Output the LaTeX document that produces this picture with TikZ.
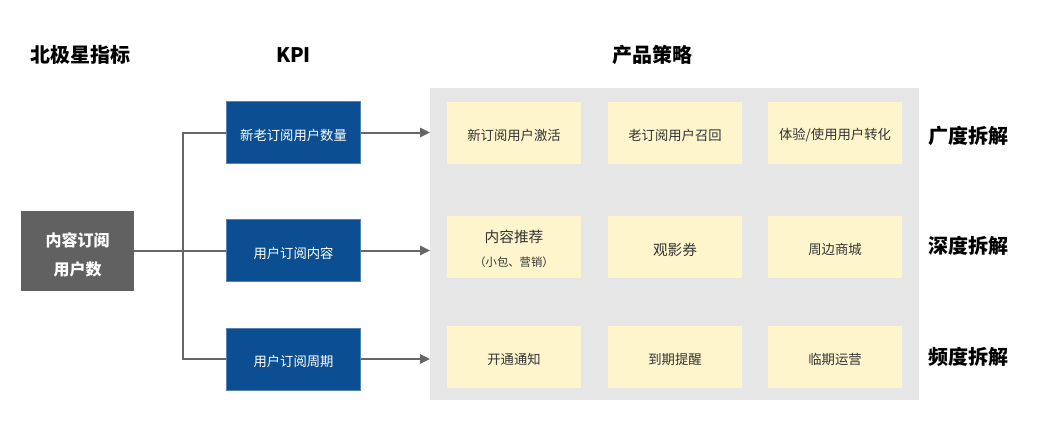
\documentclass[tikz,border=0pt]{standalone}
\usepackage{fontspec}
\setmainfont{Noto Sans CJK SC}
\usetikzlibrary{arrows.meta}
\definecolor{kpiblue}{HTML}{0B4E91}
\definecolor{nsgray}{HTML}{616161}
\definecolor{panelgray}{HTML}{E6E6E6}
\definecolor{stratyellow}{HTML}{FFF5CC}
\definecolor{linegray}{HTML}{666666}
\definecolor{txtdark}{HTML}{333333}
\newcommand\lowerby[2]{\raisebox{-#1}[\height][\depth]{#2}}
\newcommand\dn[1]{\lowerby{2pt}{#1}}
\tikzset{
  heading/.style={font=\fontsize{15}{18}\selectfont\bfseries, text=black, inner sep=0pt},
  nsbox/.style={fill=nsgray, text=white, minimum width=113*0.75pt, minimum height=80*0.75pt, inner sep=0pt, font=\fontsize{12}{21.75}\selectfont\bfseries},
  kpibox/.style={fill=kpiblue, draw=kpiblue!70!white, line width=0.4pt, text=white, minimum width=134*0.75pt, minimum height=62*0.75pt, inner sep=0pt, font=\fontsize{10}{12}\selectfont},
  stratbox/.style={fill=stratyellow, text=txtdark, minimum width=134*0.75pt, minimum height=62*0.75pt, inner sep=0pt, font=\fontsize{10}{12}\selectfont},
  conn/.style={draw=linegray, line width=1.5pt},
  arr/.style={conn, -{Triangle[length=7.5pt,width=7pt]}}
}
\begin{document}
\begin{tikzpicture}[x=0.75pt,y=-0.75pt]
\useasboundingbox[fill=white] (0,0) rectangle (1046,444);
% headings
\node[heading] (h1) at (80,55) {北极星指标};
\node[heading] (h2) at (293.5,55) {KPI};
\node[heading] (h3) at (652,55) {产品策略};
% panel
\node[fill=panelgray, minimum width=489*0.75pt, minimum height=312*0.75pt, inner sep=0pt, anchor=north west] (panel) at (430,88) {};
% north star
\node[nsbox] (ns) at (77.7,250.5) {\lowerby{3.2pt}{\begin{tabular}{@{}c@{}}内容订阅\\用户数\end{tabular}}};
% KPI boxes
\node[kpibox] (k1) at (293.5,132.5) {\dn{新老订阅用户数量}};
\node[kpibox] (k2) at (293.5,250.5) {\dn{用户订阅内容}};
\node[kpibox] (k3) at (293.5,359) {\dn{用户订阅周期}};
% strategy boxes
\node[stratbox] (s11) at (514,132.5) {\dn{新订阅用户激活}};
\node[stratbox] (s12) at (675,132.5) {\dn{老订阅用户召回}};
\node[stratbox] (s13) at (835,132.5) {\dn{体验/使用用户转化}};
\node[stratbox] (s21) at (514,247) {\lowerby{3pt}{\begin{tabular}{@{}c@{}}{\fontsize{11}{13}\selectfont 内容推荐}\\[6pt]{\fontsize{8.5}{10}\selectfont （小包、营销）}\end{tabular}}};
\node[stratbox, font=\fontsize{11}{13}\selectfont] (s22) at (675,247) {\dn{观影券}};
\node[stratbox] (s23) at (835,247) {\dn{周边商城}};
\node[stratbox] (s31) at (514,357) {\dn{开通通知}};
\node[stratbox] (s32) at (675,357) {\dn{到期提醒}};
\node[stratbox] (s33) at (835,357) {\dn{临期运营}};
% right labels
\node[heading] (r1) at (968,136) {广度拆解};
\node[heading] (r2) at (968,246) {深度拆解};
\node[heading] (r3) at (968,357) {频度拆解};
% connectors
\coordinate (bus) at (183,250.5);
\draw[conn] (ns.east) -- (k2.west);
\draw[conn] (k1.west) -- (k1.west -| bus) -- (k3.west -| bus) -- (k3.west);
\draw[arr] (k1.east) -- (k1.east -| panel.west);
\draw[arr] (k2.east) -- (k2.east -| panel.west);
\draw[arr] (k3.east) -- (k3.east -| panel.west);
\end{tikzpicture}
\end{document}
